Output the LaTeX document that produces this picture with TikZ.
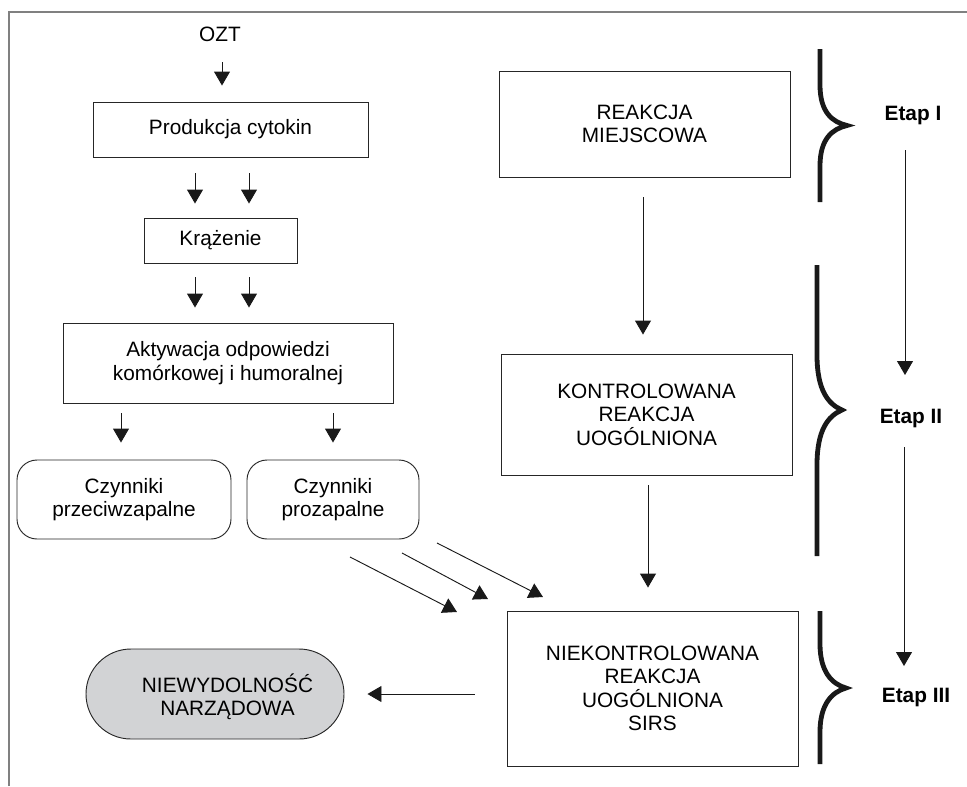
\documentclass[tikz,border=0pt]{standalone}
\usepackage{fontspec}
\setmainfont{Liberation Sans}
\usetikzlibrary{arrows.meta}
\tikzset{>={Triangle[length=10.5pt,width=12pt]}}
\definecolor{ramka}{RGB}{128,128,128}
\definecolor{szary}{RGB}{210,211,213}
\tikzset{
  blok/.style={draw=black!85, line width=0.7pt, align=center, inner sep=0pt},
  owal/.style={blok, rounded corners=15pt},
  strz/.style={->, line width=0.7pt, black!90},
  klamra/.style={line width=3.6pt, black!90},
  etap/.style={font=\fontsize{15.6}{17.6}\selectfont\bfseries}
}

\begin{document}
\begin{tikzpicture}[x=0.75pt,y=-0.75pt,font=\fontsize{15.6}{17.6}\selectfont]
        \useasboundingbox (0,0) rectangle (967,786);
        % ramka
        \draw[ramka, line width=1.1pt] (9,786) -- (9,12) -- (967,12);
        % lewa kolumna
        \node (ozt) at (220,34) {OZT};
        \node[blok, minimum width=206.25pt, minimum height=41.25pt] (prod) at (230.5,129.5) {Produkcja cytokin};
        \node[blok, minimum width=114.75pt, minimum height=33.75pt] (kraz) at (220.5,240.5) {Krążenie};
        \node[blok, minimum width=247.5pt, minimum height=60pt] (aktyw) at (228,363) {Aktywacja odpowiedzi\\komórkowej i humoralnej};
        \node[owal, minimum width=160.5pt, minimum height=59.25pt] (anti) at (124,499.5) {Czynniki\\przeciwzapalne};
        \node[owal, minimum width=129pt, minimum height=59.25pt] (pro) at (333,499.5) {Czynniki\\prozapalne};
        \node[blok, fill=szary, rounded corners=33.7pt, minimum width=193.5pt, minimum height=67.5pt] (fail) at (215,694) {};
        \node[align=center] (failtxt) at (227.5,697) {NIEWYDOLNOŚĆ\\NARZĄDOWA};
        % prawa kolumna
        \node[blok, minimum width=218.25pt, minimum height=79.5pt] (local) at (644.5,124) {REAKCJA\\MIEJSCOWA};
        \node[blok, minimum width=218.25pt, minimum height=90.75pt] (ctrl) at (646.5,414.5) {KONTROLOWANA\\REAKCJA\\UOGÓLNIONA};
        \node[blok, minimum width=218.25pt, minimum height=116.25pt] (sirs) at (652.5,688.5) {NIEKONTROLOWANA\\REAKCJA\\UOGÓLNIONA\\SIRS};
        \node[etap] (etap1) at (913,115) {Etap I};
        \node[etap] (etap2) at (911,418) {Etap II};
        \node[etap] (etap3) at (916,697) {Etap III};
        % strzalki
        \draw[strz, shorten <=12pt, shorten >=12pt] (222,0 |- ozt.south) -- (222,0 |- prod.north);
        \foreach \xx in {195,249} {
          \draw[strz, shorten <=12pt, shorten >=10.5pt] (\xx,0 |- prod.south) -- (\xx,0 |- kraz.north);
          \draw[strz, shorten <=10.5pt, shorten >=11.25pt] (\xx,0 |- kraz.south) -- (\xx,0 |- aktyw.north);
        }
        \draw[strz, shorten <=7.5pt, shorten >=12.75pt] (121,0 |- aktyw.south) -- (121,0 |- anti.north);
        \draw[strz, shorten <=7.5pt, shorten >=12.75pt] (333,0 |- aktyw.south) -- (333,0 |- pro.north);
        \foreach \a/\b/\c/\d [count=\i] in {350/557/457/612, 402/553/488/599, 437/543/543/597} {
          \coordinate (wy\i) at (\a,\b);
          \coordinate (we\i) at (\c,\d);
          \draw[strz] (wy\i) -- (we\i);
        }
        \draw[strz, shorten <=15pt, shorten >=14.25pt] (643,0 |- local.south) -- (643,0 |- ctrl.north);
        \draw[strz, shorten <=7.5pt, shorten >=17.25pt] (648,0 |- ctrl.south) -- (648,0 |- sirs.north);
        \draw[strz, shorten <=24pt, shorten >=17.25pt] (sirs.west |- fail.east) -- (fail.east);
        \draw[strz, shorten <=26.25pt, shorten >=32.25pt] (905,0 |- etap1.center) -- (905,0 |- etap2.center);
        \draw[strz, shorten <=21.75pt, shorten >=23.25pt] (904,0 |- etap2.center) -- (904,0 |- etap3.center);
        % klamry
        \draw[klamra] (820,49) -- (820,85) .. controls (820,112) and (832,122) .. (847,125.5)
                      .. controls (832,129) and (820,139) .. (820,166) -- (820,202);
        \draw[klamra] (817,265) -- (817,355) .. controls (817,390) and (828,404) .. (842,410)
                      .. controls (828,416) and (817,430) .. (817,465) -- (817,556);
        \draw[klamra] (820,611) -- (820,644) .. controls (820,672) and (832,684) .. (846,688)
                      .. controls (832,692) and (820,704) .. (820,732) -- (820,764);
\end{tikzpicture}
\end{document}
